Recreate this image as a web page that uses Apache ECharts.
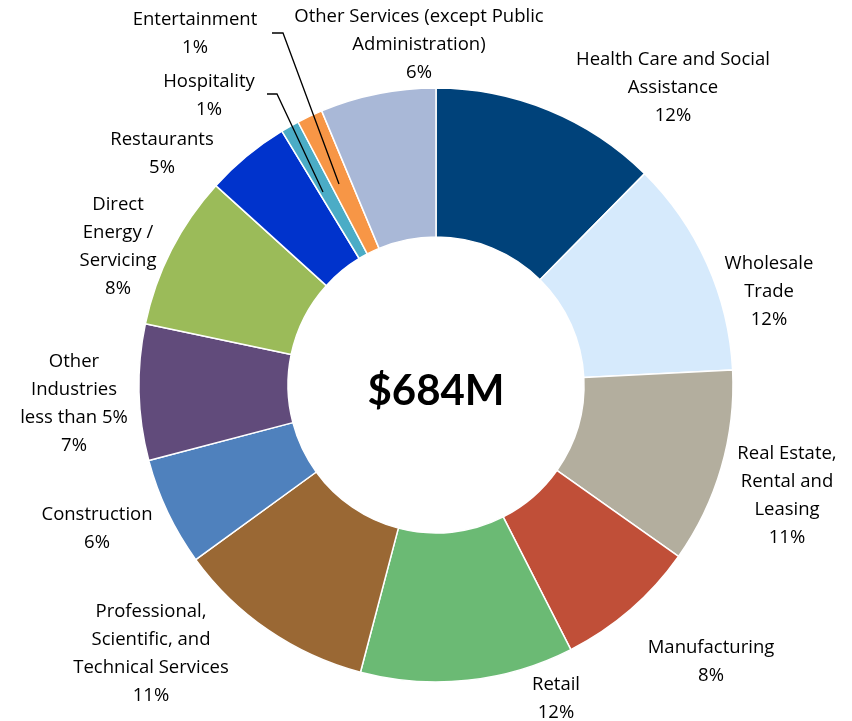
<!DOCTYPE html>
<html>
<head>
<meta charset="utf-8">
<script src="https://cdn.jsdelivr.net/npm/echarts@6/dist/echarts.min.js"></script>
<style>
  html, body { margin: 0; padding: 0; background: #fff; }
  #main { width: 852px; height: 721px; }
</style>
</head>
<body>
<div id="main"></div>
<script>
// 各行业占比（$M，总计 684）
var categories = [
  'Health Care and Social\nAssistance',
  'Wholesale\nTrade',
  'Real Estate,\nRental and\nLeasing',
  'Manufacturing',
  'Retail',
  'Professional,\nScientific, and\nTechnical Services',
  'Construction',
  'Other\nIndustries\nless than 5%',
  'Direct\nEnergy /\nServicing',
  'Restaurants',
  'Hospitality',
  'Entertainment',
  'Other Services (except Public\nAdministration)'
];
var values = [84.8, 80.7, 72.5, 52.7, 79.3, 74.6, 40.4, 50.6, 57.5, 31.5, 6.8, 9.6, 43.0];
var totalLabel = '$684M';

var colors = ['#00427A', '#D6EAFC', '#B3AE9E', '#C04F38', '#6BBA74', '#9A6834', '#4F81BD',
  '#614B7B', '#9BBB59', '#0033CC', '#4BACC6', '#F79646', '#A9B8D7'];

// 标签位置（文字块中心）
var labelPos = [
  [673, 88], [769, 292], [787, 496], [711, 662], [556, 699], [151, 654], [97, 529],
  [74, 404], [118, 247], [162, 154], [209, 96], [195, 34], [419, 45]
];
// 引导线（画在扇区之上）
var leaderLines = [
  [[267, 94], [277, 94], [323, 192]],
  [[272, 33], [283, 33], [339, 184]]
];

var myChart = echarts.init(document.getElementById('main'), null, { renderer: 'canvas' });

var data = [];
for (var i = 0; i < categories.length; i++) {
  data.push({
    name: categories[i],
    value: values[i],
    itemStyle: { color: colors[i] }
  });
}

var graphics = [{
  type: 'text',
  z: 100,
  style: {
    x: 436,
    y: 391,
    text: totalLabel,
    align: 'center',
    verticalAlign: 'middle',
    fill: '#000',
    fontFamily: 'Lato',
    fontWeight: 'bold',
    fontSize: 42
  }
}];
leaderLines.forEach(function (pts) {
  graphics.push({
    type: 'polyline',
    z: 100,
    shape: { points: pts },
    style: { stroke: '#000', lineWidth: 1.3, fill: null }
  });
});

myChart.setOption({
  animation: false,
  graphic: graphics,
  series: [{
    type: 'pie',
    center: [436, 385],
    radius: [148, 297],
    startAngle: 90,
    clockwise: true,
    avoidLabelOverlap: false,
    itemStyle: {
      borderColor: '#fff',
      borderWidth: 1.5
    },
    label: {
      show: true,
      position: 'outside',
      formatter: function (p) {
        return p.name + '\n' + Math.round(p.percent) + '%';
      },
      color: '#000',
      fontFamily: 'Open Sans',
      fontSize: 18.5,
      lineHeight: 28,
      align: 'center'
    },
    labelLine: { show: false },
    labelLayout: function (params) {
      var idx = params.dataIndex;
      return {
        x: labelPos[idx][0],
        y: labelPos[idx][1],
        align: 'center',
        verticalAlign: 'middle'
      };
    },
    data: data
  }]
});
</script>
</body>
</html>
